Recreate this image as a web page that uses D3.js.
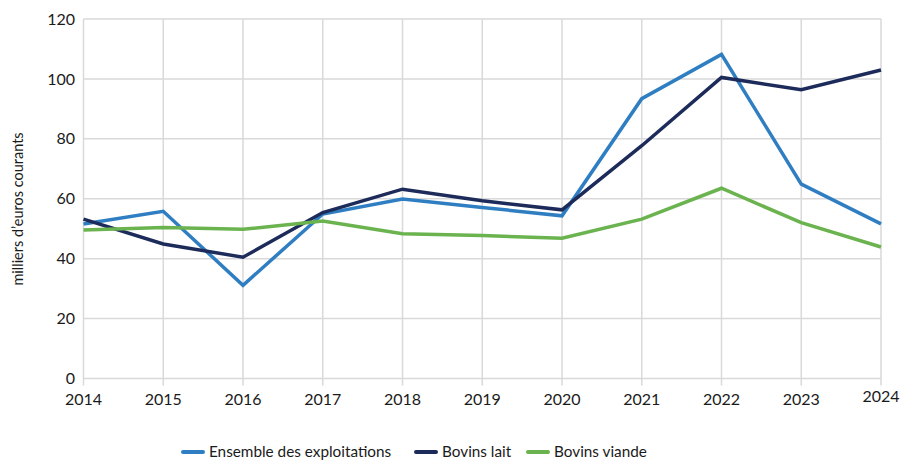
<!DOCTYPE html>
<html>
<head>
<meta charset="utf-8">
<script src="https://cdn.jsdelivr.net/npm/d3@7"></script>
<style>
  body { margin: 0; background: #fff; }
  svg { display: block; font-family: Lato, "Open Sans", sans-serif; }
</style>
</head>
<body>
<svg id="chart" width="900" height="461"></svg>
<script>
'use strict';

const years = [2014, 2015, 2016, 2017, 2018, 2019, 2020, 2021, 2022, 2023, 2024];
const yTicks = [0, 20, 40, 60, 80, 100, 120];

const ensemble = [51.6, 55.8, 31.1, 54.9, 59.9, 57.1, 54.3, 93.4, 108.2, 64.9, 51.6];
const bovinsLait = [53.2, 44.9, 40.5, 55.4, 63.2, 59.3, 56.3, 77.7, 100.5, 96.4, 103.0];
const bovinsViande = [49.6, 50.4, 49.8, 52.6, 48.3, 47.7, 46.8, 53.2, 63.5, 52.0, 43.9];

const seriesNames = ['Ensemble des exploitations', 'Bovins lait', 'Bovins viande'];
const seriesColors = ['#2f7ec2', '#1c2b5a', '#6ab34f'];
const seriesValues = [ensemble, bovinsLait, bovinsViande];

const svg = d3.select('#chart');
const plotLeft = 83.5, plotRight = 881, plotTop = 19, plotBottom = 378.5;

const x = d3.scaleLinear().domain([2014, 2024]).range([plotLeft, plotRight]);
const y = d3.scaleLinear().domain([0, 120]).range([plotBottom, plotTop]);

// horizontal grid
svg.append('g')
  .selectAll('line')
  .data(yTicks)
  .join('line')
  .attr('x1', plotLeft).attr('x2', plotRight)
  .attr('y1', d => y(d)).attr('y2', d => y(d))
  .attr('stroke', '#d9d9d9').attr('stroke-width', 1.5);

// vertical grid + small ticks below the axis
svg.append('g')
  .selectAll('line')
  .data(years)
  .join('line')
  .attr('x1', d => x(d)).attr('x2', d => x(d))
  .attr('y1', plotTop).attr('y2', plotBottom + 7)
  .attr('stroke', '#d9d9d9').attr('stroke-width', 1.5);

// y labels
svg.append('g')
  .selectAll('text')
  .data(yTicks)
  .join('text')
  .attr('x', 75)
  .attr('y', d => y(d))
  .attr('dy', '0.35em')
  .attr('text-anchor', 'end')
  .attr('font-size', 16)
  .attr('fill', '#1a1a1a')
  .text(d => d);

// x labels
svg.append('g')
  .selectAll('text')
  .data(years)
  .join('text')
  .attr('x', d => x(d))
  .attr('y', d => d === 2024 ? 396 : 399)
  .attr('dy', '0.35em')
  .attr('text-anchor', 'middle')
  .attr('font-size', 16)
  .attr('fill', '#1a1a1a')
  .text(d => d);

// y axis title
svg.append('text')
  .attr('transform', 'translate(18,209) rotate(-90)')
  .attr('dy', '0.35em')
  .attr('text-anchor', 'middle')
  .attr('font-size', 14.5)
  .attr('fill', '#1a1a1a')
  .text('milliers d\u2019euros courants');

const line = d3.line()
  .x((d, i) => x(years[i]))
  .y(d => y(d));

svg.append('g')
  .selectAll('path')
  .data(seriesValues)
  .join('path')
  .attr('d', line)
  .attr('fill', 'none')
  .attr('stroke', (d, i) => seriesColors[i])
  .attr('stroke-width', 3.5)
  .attr('stroke-linejoin', 'miter');

// legend
const legendX = [182, 415, 527];
const legend = svg.append('g')
  .selectAll('g')
  .data(seriesNames)
  .join('g')
  .attr('transform', (d, i) => `translate(${legendX[i]},452)`);

legend.append('line')
  .attr('x1', 1).attr('x2', 21)
  .attr('stroke', (d, i) => seriesColors[i])
  .attr('stroke-width', 4)
  .attr('stroke-linecap', 'round');

legend.append('text')
  .attr('x', 27)
  .attr('dy', '0.35em')
  .attr('font-size', 15.3)
  .attr('fill', '#1a1a1a')
  .text(d => d);
</script>
</body>
</html>
